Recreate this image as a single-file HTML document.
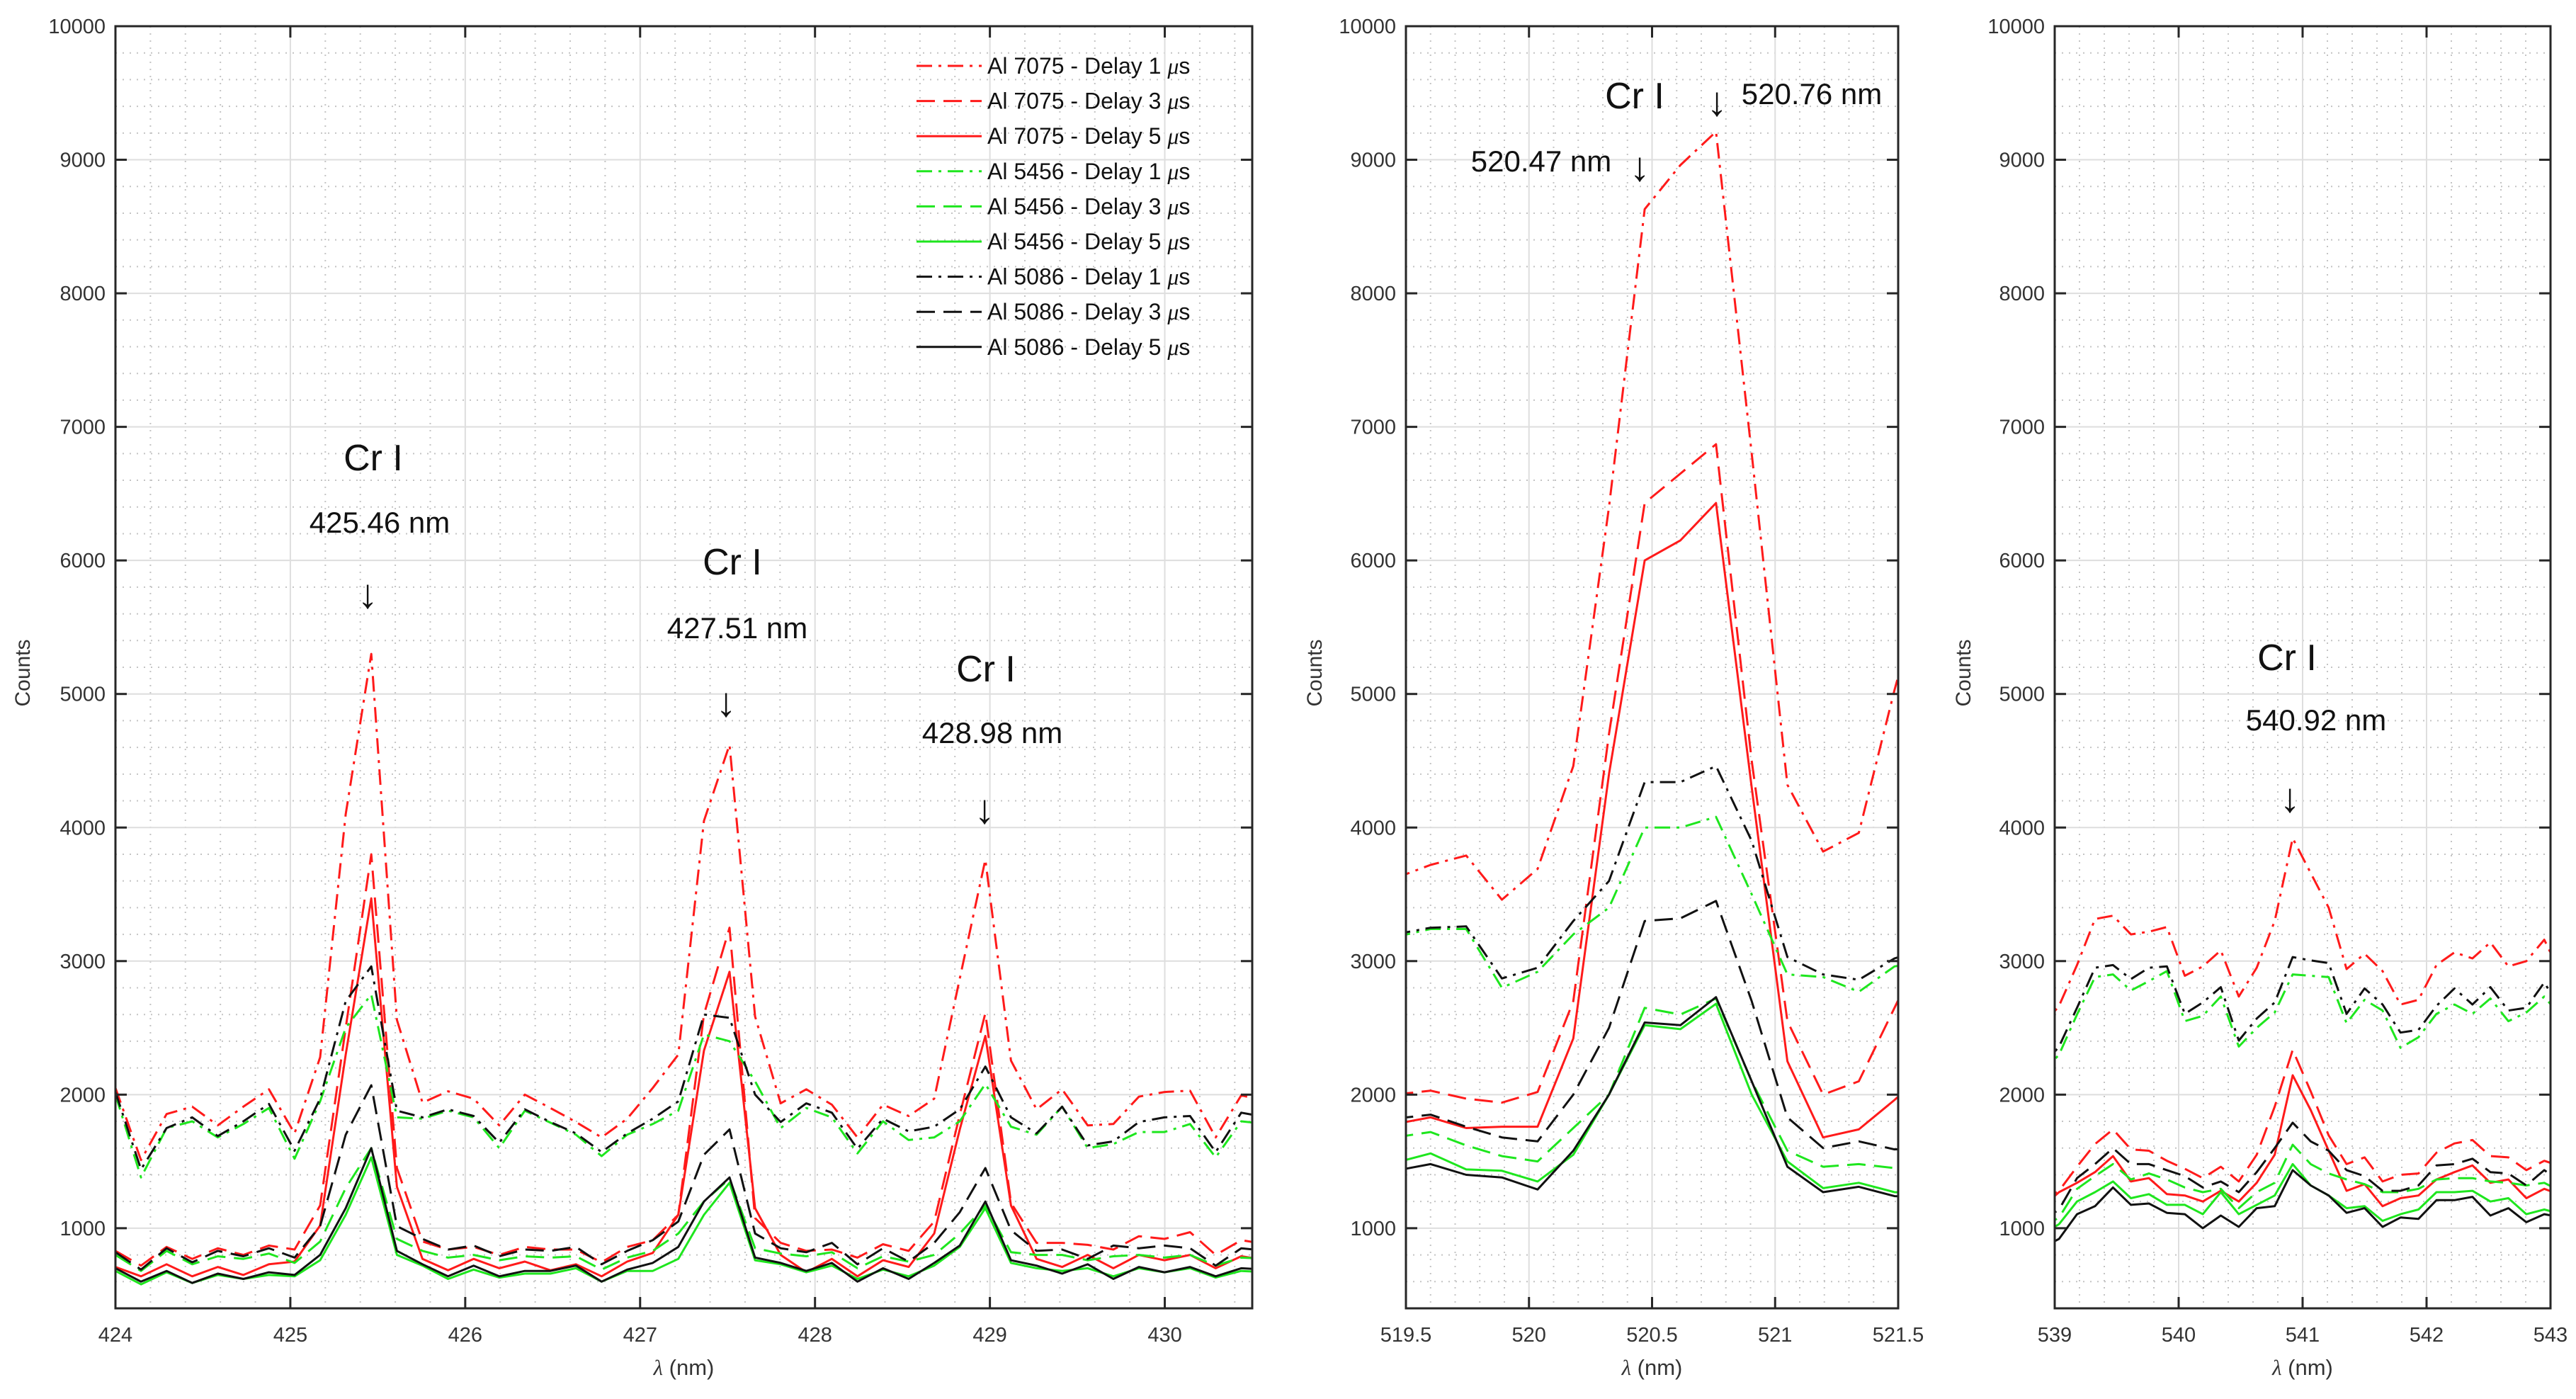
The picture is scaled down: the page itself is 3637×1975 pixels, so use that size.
<!DOCTYPE html>
<html><head><meta charset="utf-8"><style>
html,body{margin:0;padding:0;background:#fff;}
svg{display:block;font-family:"Liberation Sans",Arial,sans-serif;}
</style></head><body>
<svg id="chart" xmlns="http://www.w3.org/2000/svg" width="3637" height="1975" viewBox="0 0 3637 1975">
<rect x="0" y="0" width="3637" height="1975" fill="#fff"/>
</svg>
<script>
// ---- Data: panel 1 (424–430.5 nm) ----
const p1Start = 424.0;
const p1Step = 0.1463;
const p1_R1 = [2050,1510,1855,1910,1770,1910,2040,1710,2280,4100,5300,2560,1940,2025,1970,1770,2000,1900,1795,1680,1820,2050,2300,4050,4620,2585,1935,2040,1925,1680,1925,1840,1970,2870,3760,2255,1890,2040,1770,1780,1985,2020,2030,1680,1995,1950];
const p1_R3 = [830,720,860,770,850,800,870,840,1170,2500,3800,1450,900,840,860,800,860,840,840,745,860,910,1100,2600,3250,1075,890,830,840,780,880,830,1050,1850,2610,1190,890,890,875,840,940,920,970,800,910,880];
const p1_R5 = [710,640,730,640,710,650,730,750,1020,2300,3470,1310,770,685,770,700,750,685,730,640,750,815,1100,2330,2920,1150,800,670,770,640,760,710,960,1740,2440,1170,770,710,800,700,800,760,800,700,790,760];
const p1_G1 = [2000,1380,1750,1800,1680,1780,1900,1520,1950,2500,2750,1830,1820,1880,1830,1600,1880,1790,1700,1540,1700,1780,1880,2450,2400,2100,1750,1900,1830,1560,1800,1660,1680,1800,2080,1760,1700,1910,1600,1630,1720,1720,1780,1530,1800,1780];
const p1_G3 = [800,680,830,730,790,770,810,740,900,1300,1600,920,830,780,800,760,790,780,790,690,780,830,960,1200,1370,850,810,790,820,700,790,750,800,960,1170,820,800,800,760,790,800,780,800,720,780,770];
const p1_G5 = [680,580,670,590,650,620,650,640,760,1100,1530,800,720,620,690,630,660,660,700,600,680,680,770,1100,1340,760,730,670,720,620,690,640,720,860,1150,740,700,680,700,640,700,670,700,630,680,670];
const p1_K1 = [2020,1440,1750,1830,1690,1800,1930,1580,1970,2700,2960,1880,1830,1890,1840,1640,1890,1795,1710,1570,1710,1820,1950,2600,2575,2000,1795,1935,1865,1595,1820,1725,1760,1890,2210,1830,1710,1910,1620,1650,1795,1830,1840,1570,1865,1830];
const p1_K3 = [820,690,850,745,830,790,850,780,1015,1700,2070,1015,920,840,870,790,840,830,860,730,830,910,1050,1550,1740,960,850,820,890,730,850,750,890,1120,1450,985,830,840,770,870,850,870,850,720,850,830];
const p1_K5 = [700,600,680,590,660,620,670,650,800,1150,1600,830,730,640,720,640,680,680,720,600,690,740,860,1200,1380,780,740,680,740,600,700,620,740,870,1200,760,720,660,730,620,710,670,710,640,700,690];

// ---- Data: panel 2 (519.5–521.5 nm) ----
const p2Start = 519.455;
const p2Step = 0.145;
const p2_R1 = [3620,3720,3790,3460,3690,4460,6400,8630,8960,9210,6800,4320,3820,3960,5030,6000];
const p2_R3 = [2000,2030,1970,1940,2020,2700,4700,6430,6650,6870,4500,2550,2000,2100,2650,3200];
const p2_R5 = [1780,1830,1750,1760,1760,2420,4400,6000,6150,6430,4300,2250,1680,1740,1960,2200];
const p2_G1 = [3180,3240,3240,2800,2920,3200,3400,4000,4000,4080,3500,2900,2880,2770,2960,3000];
const p2_G3 = [1680,1720,1620,1540,1500,1750,2000,2650,2600,2720,2100,1580,1460,1480,1450,1450];
const p2_G5 = [1490,1560,1440,1430,1350,1550,2000,2520,2490,2680,2000,1500,1300,1340,1270,1260];
const p2_K1 = [3200,3250,3260,2870,2950,3300,3600,4340,4340,4460,3900,3030,2900,2860,3020,3100];
const p2_K3 = [1820,1850,1760,1680,1650,2000,2500,3300,3320,3450,2700,1830,1600,1650,1590,1600];
const p2_K5 = [1430,1480,1400,1380,1290,1580,2000,2540,2520,2730,2100,1460,1270,1310,1240,1230];

// ---- Data: panel 3 (539–543 nm) ----
const p3Start = 538.89;
const p3Step = 0.145;
const p3_R1 = [2500,2665,2970,3315,3340,3200,3220,3255,2890,2960,3080,2735,2950,3300,3920,3660,3400,2940,3055,2925,2675,2710,2970,3065,3020,3140,2960,3000,3160,2880];
const p3_R3 = [1200,1280,1460,1630,1740,1590,1580,1505,1445,1375,1460,1350,1550,1910,2335,2025,1695,1480,1530,1350,1400,1410,1565,1635,1660,1540,1530,1435,1505,1460];
const p3_R5 = [1150,1270,1340,1420,1540,1350,1375,1255,1245,1200,1280,1200,1340,1550,2145,1885,1580,1280,1330,1165,1225,1245,1365,1420,1470,1340,1365,1225,1295,1245];
const p3_G1 = [2150,2300,2600,2880,2900,2780,2850,2925,2550,2590,2735,2360,2500,2615,2900,2890,2880,2535,2710,2630,2350,2430,2605,2675,2605,2720,2550,2615,2735,2570];
const p3_G3 = [1000,1080,1295,1390,1480,1365,1410,1365,1305,1270,1295,1150,1270,1340,1625,1480,1410,1365,1330,1270,1270,1295,1365,1375,1375,1350,1340,1320,1340,1270];
const p3_G5 = [950,1030,1200,1270,1350,1225,1255,1175,1175,1105,1270,1105,1175,1245,1480,1320,1245,1150,1165,1055,1105,1140,1270,1270,1280,1200,1225,1105,1140,1105];
const p3_K1 = [2200,2360,2650,2950,2970,2865,2950,2960,2605,2690,2805,2405,2570,2690,3030,3005,2985,2605,2795,2675,2465,2485,2665,2795,2675,2805,2630,2650,2840,2620];
const p3_K3 = [1050,1140,1375,1480,1600,1480,1480,1435,1390,1305,1350,1270,1420,1600,1790,1650,1580,1435,1390,1280,1280,1320,1470,1480,1520,1420,1410,1320,1435,1340];
const p3_K5 = [850,920,1105,1165,1305,1175,1185,1115,1105,1000,1095,1010,1150,1165,1435,1320,1245,1115,1150,1010,1080,1070,1210,1210,1235,1095,1150,1045,1105,1080];

const yTicks = [1000,2000,3000,4000,5000,6000,7000,8000,9000,10000];
const p1Ticks = [424,425,426,427,428,429,430];
const p2Ticks = [519.5,520,520.5,521,521.5];
const p3Ticks = [539,540,541,542,543];
const legendLabels = ["Al 7075 - Delay 1 ","Al 7075 - Delay 3 ","Al 7075 - Delay 5 ","Al 5456 - Delay 1 ","Al 5456 - Delay 3 ","Al 5456 - Delay 5 ","Al 5086 - Delay 1 ","Al 5086 - Delay 3 ","Al 5086 - Delay 5 "];

// ---- Rendering ----
const NS = "http://www.w3.org/2000/svg";
const svg = document.getElementById('chart');
const RED = '#ff1a1a', GREEN = '#1ee61e', BLACK = '#111';
const styles = [
  {c:RED, d:'22,9,4,9', k:'R1'},{c:RED, d:'26,12', k:'R3'},{c:RED, d:'', k:'R5'},
  {c:GREEN, d:'22,9,4,9', k:'G1'},{c:GREEN, d:'26,12', k:'G3'},{c:GREEN, d:'', k:'G5'},
  {c:BLACK, d:'22,9,4,9', k:'K1'},{c:BLACK, d:'26,12', k:'K3'},{c:BLACK, d:'', k:'K5'}
];
const Y0 = 37, Y1 = 1847, YMIN = 400, YMAX = 10000;
function yS(v){ return Y1 - (v - YMIN) / (YMAX - YMIN) * (Y1 - Y0); }
function mk(tag, attrs, parent){
  const e = document.createElementNS(NS, tag);
  for (const k in attrs) e.setAttribute(k, attrs[k]);
  (parent || svg).appendChild(e);
  return e;
}

const panels = [
  {id:'p1', x0:163, x1:1768, xmin:424, xmax:430.5, ticks:p1Ticks, minor:0.2, start:p1Start, step:p1Step,
   series:[p1_R1,p1_R3,p1_R5,p1_G1,p1_G3,p1_G5,p1_K1,p1_K3,p1_K5], ylab:149, counts:32},
  {id:'p2', x0:1985, x1:2680, xmin:519.5, xmax:521.5, ticks:p2Ticks, minor:0.1, start:p2Start, step:p2Step,
   series:[p2_R1,p2_R3,p2_R5,p2_G1,p2_G3,p2_G5,p2_K1,p2_K3,p2_K5], ylab:1971, counts:1856},
  {id:'p3', x0:2901, x1:3601, xmin:539, xmax:543, ticks:p3Ticks, minor:0.2, start:p3Start, step:p3Step,
   series:[p3_R1,p3_R3,p3_R5,p3_G1,p3_G3,p3_G5,p3_K1,p3_K3,p3_K5], ylab:2887, counts:2772}
];

const defs = mk('defs', {});
panels.forEach(function(p){
  const xS = function(v){ return p.x0 + (v - p.xmin) / (p.xmax - p.xmin) * (p.x1 - p.x0); };
  const g = mk('g', {});
  
  
  const cp = mk('clipPath', {id:'clip-' + p.id}, defs);
  mk('rect', {x:p.x0, y:Y0, width:p.x1 - p.x0, height:Y1 - Y0}, cp);

  const grid = mk('g', {}, g);
  
  
  for (let v = 600; v < YMAX; v += 200) {
    if (v % 1000 === 0) continue;
    mk('line', {x1:p.x0, x2:p.x1, y1:yS(v), y2:yS(v), stroke:'#c4c4c4', 'stroke-width':2, 'stroke-dasharray':'2,8'}, grid);
  }
  const nMinor = Math.round((p.xmax - p.xmin) / p.minor);
  for (let i = 1; i < nMinor; i++) {
    const v = p.xmin + i * p.minor;
    if (p.ticks.some(function(t){ return Math.abs(t - v) < 1e-6; })) continue;
    mk('line', {x1:xS(v), x2:xS(v), y1:Y0, y2:Y1, stroke:'#c4c4c4', 'stroke-width':2, 'stroke-dasharray':'2,8'}, grid);
  }
  yTicks.forEach(function(t){
    mk('line', {x1:p.x0, x2:p.x1, y1:yS(t), y2:yS(t), stroke:'#dedede', 'stroke-width':2}, grid);
  });
  p.ticks.forEach(function(t){
    mk('line', {x1:xS(t), x2:xS(t), y1:Y0, y2:Y1, stroke:'#dedede', 'stroke-width':2}, grid);
  });

  const sg = mk('g', {'clip-path':'url(#clip-' + p.id + ')'}, g);
  
  
  p.series.forEach(function(arr, si){
    const st = styles[si];
    const pts = arr.map(function(v, i){ return xS(p.start + i * p.step).toFixed(1) + ',' + yS(v).toFixed(1); }).join(' ');
    const pl = mk('polyline', {points:pts, fill:'none', stroke:st.c, 'stroke-width':3, 'stroke-linejoin':'round'}, sg);
    if (st.d) pl.setAttribute('stroke-dasharray', st.d);
    
    
  });

  mk('rect', {x:p.x0, y:Y0, width:p.x1 - p.x0, height:Y1 - Y0, fill:'none', stroke:'#262626', 'stroke-width':3}, g);
  yTicks.forEach(function(t){
    mk('line', {x1:p.x0, x2:p.x0 + 16, y1:yS(t), y2:yS(t), stroke:'#262626', 'stroke-width':3}, g);
    mk('line', {x1:p.x1, x2:p.x1 - 16, y1:yS(t), y2:yS(t), stroke:'#262626', 'stroke-width':3}, g);
    const tx = mk('text', {x:p.ylab, y:yS(t) + 10, 'text-anchor':'end', 'font-size':29, fill:'#333'}, g);
    tx.textContent = t;
    
    
  });
  p.ticks.forEach(function(t){
    mk('line', {x1:xS(t), x2:xS(t), y1:Y1, y2:Y1 - 16, stroke:'#262626', 'stroke-width':3}, g);
    mk('line', {x1:xS(t), x2:xS(t), y1:Y0, y2:Y0 + 16, stroke:'#262626', 'stroke-width':3}, g);
    const tx = mk('text', {x:xS(t), y:1894, 'text-anchor':'middle', 'font-size':29, fill:'#333'}, g);
    tx.textContent = t;
    
    
  });
  const xl = mk('text', {x:(p.x0 + p.x1) / 2, y:1941, 'text-anchor':'middle', 'font-size':31, fill:'#333'}, g);
  xl.innerHTML = '<tspan font-family="Liberation Serif" font-style="italic">λ</tspan> (nm)';
  
  
  const yl = mk('text', {x:p.counts, y:940, 'text-anchor':'middle', 'font-size':30, fill:'#333', transform:'rotate(-90 ' + (p.counts + 10) + ' 940)'}, g);
  yl.textContent = 'Counts';
  
  
});

const lg = mk('g', {});


legendLabels.forEach(function(lbl, i){
  const y = 93 + i * 49.6;
  const st = styles[i];
  const ln = mk('line', {x1:1294, x2:1386, y1:y, y2:y, stroke:st.c, 'stroke-width':3}, lg);
  if (st.d) ln.setAttribute('stroke-dasharray', st.d);
  const t = mk('text', {x:1394, y:y + 11, 'font-size':32, fill:'#111'}, lg);
  t.innerHTML = lbl + '<tspan font-family="Liberation Serif" font-style="italic">μ</tspan>s';
  
  
});

const anns = [
  ['Cr I', 527, 664, 52], ['425.46 nm', 536, 752, 42], ['↓', 519, 858, 58],
  ['Cr I', 1034, 811, 52], ['427.51 nm', 1041, 901, 42], ['↓', 1025, 1011, 58],
  ['Cr I', 1392, 962, 52], ['428.98 nm', 1401, 1049, 42], ['↓', 1390, 1162, 58],
  ['Cr I', 2308, 153, 52], ['↓', 2424, 163, 58], ['520.76 nm', 2558, 147, 42],
  ['520.47 nm', 2176, 242, 42], ['↓', 2315, 255, 58],
  ['Cr I', 3229, 946, 52], ['540.92 nm', 3270, 1031, 42], ['↓', 3233, 1146, 58]
];
anns.forEach(function(a){
  const t = mk('text', {x:a[1], y:a[2], 'text-anchor':'middle', 'font-size':a[3], fill:'#111'});
  t.textContent = a[0];
  
  
});
</script>
</body></html>
